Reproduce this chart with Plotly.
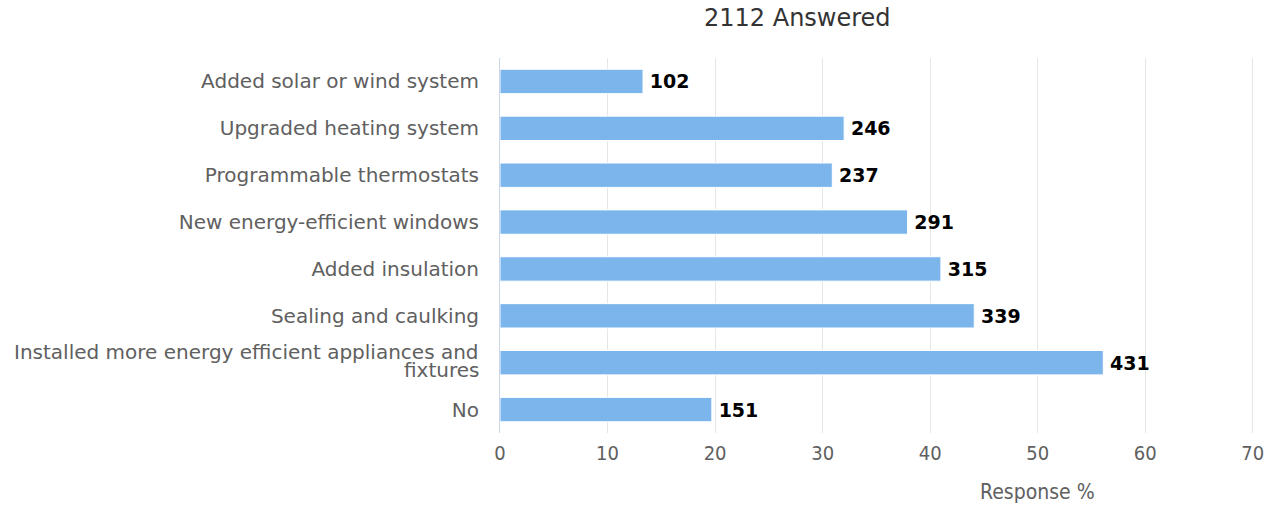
import plotly.graph_objects as go

categories = [
    "Added solar or wind system",
    "Upgraded heating system",
    "Programmable thermostats",
    "New energy-efficient windows",
    "Added insulation",
    "Sealing and caulking",
    "Installed more energy efficient appliances and fixtures",
    "No",
]
# tick text (the long label is wrapped in two lines and drawn separately)
wrapped = {"Installed more energy efficient appliances and fixtures":
           ["Installed more energy efficient appliances and", "fixtures"]}
percent = [13.3, 32.0, 30.9, 37.9, 41.0, 44.1, 56.1, 19.7]
counts = [102, 246, 237, 291, 315, 339, 431, 151]
x_ticks = [0, 10, 20, 30, 40, 50, 60, 70]

font_family = "DejaVu Sans, Verdana, sans-serif"
cond_family = "DejaVu Sans Condensed, Liberation Sans Narrow, DejaVu Sans, sans-serif"

W, H = 1276, 506
L, R, T, B = 500, 13, 58, 73
PW, PH = W - L - R, H - T - B

fig = go.Figure(go.Bar(
    y=categories,
    x=percent,
    orientation="h",
    marker=dict(color="#7cb5ec", line=dict(color="#ffffff", width=1)),
    width=0.52,
    text=[f"<b>\u2009{c}</b>" for c in counts],
    textposition="outside",
    textfont=dict(family=font_family, size=19, color="#000000"),
    cliponaxis=False,
    hoverinfo="skip",
))

annotations = [
    dict(text="2112 Answered", xref="paper", yref="paper",
         x=(800 - L) / PW, y=1 + (T - 18) / PH,
         xanchor="center", yanchor="middle", showarrow=False,
         font=dict(family=font_family, size=24, color="#333333")),
    dict(text="Response %", xref="paper", yref="paper",
         x=(1042 - L) / PW, y=-(492 - (H - B)) / PH,
         xanchor="center", yanchor="middle", showarrow=False,
         font=dict(family=cond_family, size=21, color="#606060")),
]
for cat, lines in wrapped.items():
    for ln, shift in zip(lines, [11, -7]):
        annotations.append(dict(
            text=ln, xref="paper", x=0, yref="y", y=cat,
            xanchor="right", yanchor="middle", xshift=-19, yshift=shift,
            showarrow=False, font=dict(family=font_family, size=20, color="#606060")))

fig.update_layout(
    width=W, height=H,
    margin=dict(l=L, r=R, t=T, b=B),
    paper_bgcolor="white", plot_bgcolor="white",
    showlegend=False,
    font=dict(family=font_family, size=20, color="#606060"),
    annotations=annotations,
)

fig.update_xaxes(
    range=[0, 70.3],
    tickvals=x_ticks,
    showgrid=True, gridcolor="#e6e6e6", gridwidth=1,
    zeroline=False, showline=False,
    ticks="", tickfont=dict(family=cond_family, size=20, color="#606060"),
    ticklabelstandoff=6,
)
fig.update_yaxes(
    categoryorder="array", categoryarray=categories[::-1],
    tickvals=categories,
    ticktext=["" if c in wrapped else c for c in categories],
    autorange=True,
    showline=True, linecolor="#ccd6eb", linewidth=1,
    ticks="", ticklabelstandoff=16,
    tickfont=dict(family=font_family, size=20, color="#606060"),
    showgrid=False,
)

fig.write_html("out.html", config={"displayModeBar": False},
               post_script="document.body.style.margin='0';")
